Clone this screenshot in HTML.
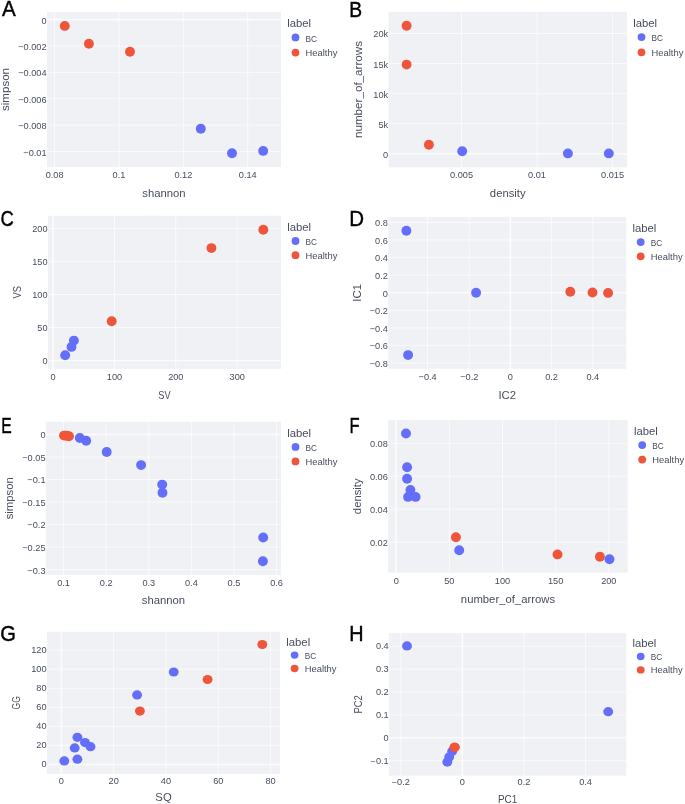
<!DOCTYPE html>
<html><head><meta charset="utf-8"><style>
html,body{margin:0;padding:0;background:#fff;}
body{width:685px;height:804px;overflow:hidden;}
svg{display:block;filter:blur(0.3px);}
text{font-family:"Liberation Sans", sans-serif;}
.gl{stroke:#fff;stroke-width:0.9;stroke-opacity:0.75;}
.zl{stroke:#fff;stroke-width:1.6;stroke-opacity:0.8;}
.tk{font-size:9.2px;fill:#474d5e;}
.tt{font-size:11.3px;fill:#474d5e;}
.lt{font-size:11.3px;fill:#474d5e;}
.lg{font-size:9.4px;fill:#474d5e;}
.let{font-size:21px;fill:#000;stroke:#000;stroke-width:0.4px;}
</style></head><body>
<svg width="685" height="804" viewBox="0 0 685 804">
<rect width="685" height="804" fill="#fff"/>
<rect x="47" y="12" width="234" height="155" fill="#F0F1F5"/>
<line x1="54.6" y1="12" x2="54.6" y2="167" class="gl"/>
<line x1="119" y1="12" x2="119" y2="167" class="gl"/>
<line x1="183.4" y1="12" x2="183.4" y2="167" class="gl"/>
<line x1="247.8" y1="12" x2="247.8" y2="167" class="gl"/>
<line x1="47" y1="46" x2="281" y2="46" class="gl"/>
<line x1="47" y1="72.4" x2="281" y2="72.4" class="gl"/>
<line x1="47" y1="98.8" x2="281" y2="98.8" class="gl"/>
<line x1="47" y1="125.2" x2="281" y2="125.2" class="gl"/>
<line x1="47" y1="151.6" x2="281" y2="151.6" class="gl"/>
<line x1="47" y1="19.6" x2="281" y2="19.6" class="zl"/>
<circle cx="200.8" cy="128.8" r="4.95" fill="#636EFA"/>
<circle cx="232" cy="153.3" r="4.95" fill="#636EFA"/>
<circle cx="263.2" cy="150.9" r="4.95" fill="#636EFA"/>
<circle cx="64.8" cy="25.9" r="4.95" fill="#EF553B"/>
<circle cx="88.9" cy="43.7" r="4.95" fill="#EF553B"/>
<circle cx="130" cy="51.8" r="4.95" fill="#EF553B"/>
<text x="54.6" y="178" class="tk" text-anchor="middle">0.08</text>
<text x="119" y="178" class="tk" text-anchor="middle">0.1</text>
<text x="183.4" y="178" class="tk" text-anchor="middle">0.12</text>
<text x="247.8" y="178" class="tk" text-anchor="middle">0.14</text>
<text x="46.6" y="23.5" class="tk" text-anchor="end">0</text>
<text x="46.6" y="49.9" class="tk" text-anchor="end">−0.002</text>
<text x="46.6" y="76.3" class="tk" text-anchor="end">−0.004</text>
<text x="46.6" y="102.7" class="tk" text-anchor="end">−0.006</text>
<text x="46.6" y="129.1" class="tk" text-anchor="end">−0.008</text>
<text x="46.6" y="155.5" class="tk" text-anchor="end">−0.01</text>
<text x="164" y="197.2" class="tt" text-anchor="middle">shannon</text>
<text transform="translate(9.3,89.5) scale(1,1.020) rotate(-90)" class="tt" text-anchor="middle">simpson</text>
<text x="287.2" y="27.4" class="lt">label</text>
<circle cx="295.5" cy="37.4" r="3.9" fill="#636EFA"/>
<text x="305.6" y="41.7" class="lg" textLength="11.5" lengthAdjust="spacingAndGlyphs">BC</text>
<circle cx="295.5" cy="52.6" r="3.9" fill="#EF553B"/>
<text x="305.6" y="55.8" class="lg">Healthy</text>
<text transform="translate(2.10,15.80) scale(0.981,1.036)" class="let">A</text>
<rect x="388.5" y="11.7" width="238.5" height="155.6" fill="#F0F1F5"/>
<line x1="461.5" y1="11.7" x2="461.5" y2="167.3" class="gl"/>
<line x1="537" y1="11.7" x2="537" y2="167.3" class="gl"/>
<line x1="612.6" y1="11.7" x2="612.6" y2="167.3" class="gl"/>
<line x1="388.5" y1="123.7" x2="627" y2="123.7" class="gl"/>
<line x1="388.5" y1="93.7" x2="627" y2="93.7" class="gl"/>
<line x1="388.5" y1="63.6" x2="627" y2="63.6" class="gl"/>
<line x1="388.5" y1="33.5" x2="627" y2="33.5" class="gl"/>
<line x1="388.5" y1="153.8" x2="627" y2="153.8" class="zl"/>
<circle cx="462.2" cy="151.3" r="4.95" fill="#636EFA"/>
<circle cx="567.9" cy="153.4" r="4.95" fill="#636EFA"/>
<circle cx="608.8" cy="153.4" r="4.95" fill="#636EFA"/>
<circle cx="406.6" cy="25.7" r="4.95" fill="#EF553B"/>
<circle cx="406.6" cy="64.6" r="4.95" fill="#EF553B"/>
<circle cx="428.9" cy="144.8" r="4.95" fill="#EF553B"/>
<text x="461.5" y="178.3" class="tk" text-anchor="middle">0.005</text>
<text x="537" y="178.3" class="tk" text-anchor="middle">0.01</text>
<text x="612.6" y="178.3" class="tk" text-anchor="middle">0.015</text>
<text x="388.1" y="157.7" class="tk" text-anchor="end">0</text>
<text x="388.1" y="127.6" class="tk" text-anchor="end">5k</text>
<text x="388.1" y="97.6" class="tk" text-anchor="end">10k</text>
<text x="388.1" y="67.5" class="tk" text-anchor="end">15k</text>
<text x="388.1" y="37.4" class="tk" text-anchor="end">20k</text>
<text x="507.75" y="197.3" class="tt" text-anchor="middle">density</text>
<text transform="translate(362.4,89.5) scale(1,1.030) rotate(-90)" class="tt" text-anchor="middle">number_of_arrows</text>
<text x="633.2" y="27.1" class="lt">label</text>
<circle cx="641.5" cy="37.1" r="3.9" fill="#636EFA"/>
<text x="651.6" y="41.4" class="lg" textLength="11.5" lengthAdjust="spacingAndGlyphs">BC</text>
<circle cx="641.5" cy="52.3" r="3.9" fill="#EF553B"/>
<text x="651.6" y="55.5" class="lg">Healthy</text>
<text transform="translate(349.36,17.30) scale(0.917,1.056)" class="let">B</text>
<rect x="47.9" y="215.8" width="233.1" height="153.1" fill="#F0F1F5"/>
<line x1="114.5" y1="215.8" x2="114.5" y2="368.9" class="gl"/>
<line x1="175.8" y1="215.8" x2="175.8" y2="368.9" class="gl"/>
<line x1="237.2" y1="215.8" x2="237.2" y2="368.9" class="gl"/>
<line x1="47.9" y1="327.5" x2="281" y2="327.5" class="gl"/>
<line x1="47.9" y1="294.5" x2="281" y2="294.5" class="gl"/>
<line x1="47.9" y1="261.4" x2="281" y2="261.4" class="gl"/>
<line x1="47.9" y1="228.4" x2="281" y2="228.4" class="gl"/>
<line x1="53.1" y1="215.8" x2="53.1" y2="368.9" class="zl"/>
<line x1="47.9" y1="360.5" x2="281" y2="360.5" class="zl"/>
<circle cx="73.9" cy="340.6" r="4.95" fill="#636EFA"/>
<circle cx="71.5" cy="346.9" r="4.95" fill="#636EFA"/>
<circle cx="65.2" cy="355.2" r="4.95" fill="#636EFA"/>
<circle cx="263.3" cy="229.7" r="4.95" fill="#EF553B"/>
<circle cx="211.4" cy="248.1" r="4.95" fill="#EF553B"/>
<circle cx="111.7" cy="321.3" r="4.95" fill="#EF553B"/>
<text x="53.1" y="379.9" class="tk" text-anchor="middle">0</text>
<text x="114.5" y="379.9" class="tk" text-anchor="middle">100</text>
<text x="175.8" y="379.9" class="tk" text-anchor="middle">200</text>
<text x="237.2" y="379.9" class="tk" text-anchor="middle">300</text>
<text x="47.5" y="364.4" class="tk" text-anchor="end">0</text>
<text x="47.5" y="331.4" class="tk" text-anchor="end">50</text>
<text x="47.5" y="298.4" class="tk" text-anchor="end">100</text>
<text x="47.5" y="265.3" class="tk" text-anchor="end">150</text>
<text x="47.5" y="232.3" class="tk" text-anchor="end">200</text>
<text transform="translate(164.45,398.9) scale(0.82,1.0)" class="tt" text-anchor="middle">SV</text>
<text transform="translate(21.1,292.35) scale(1,0.830) rotate(-90)" class="tt" text-anchor="middle">VS</text>
<text x="287.2" y="231.1" class="lt">label</text>
<circle cx="295.5" cy="241" r="3.9" fill="#636EFA"/>
<text x="305.6" y="244.9" class="lg" textLength="11.5" lengthAdjust="spacingAndGlyphs">BC</text>
<circle cx="295.5" cy="255.2" r="3.9" fill="#EF553B"/>
<text x="305.6" y="259" class="lg">Healthy</text>
<text transform="translate(0.58,225.57) scale(0.877,1.073)" class="let">C</text>
<rect x="388.3" y="216.9" width="237.9" height="151.9" fill="#F0F1F5"/>
<line x1="427.6" y1="216.9" x2="427.6" y2="368.8" class="gl"/>
<line x1="469.3" y1="216.9" x2="469.3" y2="368.8" class="gl"/>
<line x1="551.6" y1="216.9" x2="551.6" y2="368.8" class="gl"/>
<line x1="592.8" y1="216.9" x2="592.8" y2="368.8" class="gl"/>
<line x1="388.3" y1="222.4" x2="626.2" y2="222.4" class="gl"/>
<line x1="388.3" y1="239.99" x2="626.2" y2="239.99" class="gl"/>
<line x1="388.3" y1="257.58" x2="626.2" y2="257.58" class="gl"/>
<line x1="388.3" y1="275.17" x2="626.2" y2="275.17" class="gl"/>
<line x1="388.3" y1="310.35" x2="626.2" y2="310.35" class="gl"/>
<line x1="388.3" y1="327.94" x2="626.2" y2="327.94" class="gl"/>
<line x1="388.3" y1="345.53" x2="626.2" y2="345.53" class="gl"/>
<line x1="388.3" y1="363.12" x2="626.2" y2="363.12" class="gl"/>
<line x1="510.3" y1="216.9" x2="510.3" y2="368.8" class="zl"/>
<line x1="388.3" y1="292.75" x2="626.2" y2="292.75" class="zl"/>
<circle cx="406.4" cy="230.7" r="4.95" fill="#636EFA"/>
<circle cx="408.1" cy="355.1" r="4.95" fill="#636EFA"/>
<circle cx="476.1" cy="292.8" r="4.95" fill="#636EFA"/>
<circle cx="570.3" cy="291.8" r="4.95" fill="#EF553B"/>
<circle cx="592.5" cy="292.5" r="4.95" fill="#EF553B"/>
<circle cx="608.1" cy="292.9" r="4.95" fill="#EF553B"/>
<text x="427.6" y="379.8" class="tk" text-anchor="middle">−0.4</text>
<text x="469.3" y="379.8" class="tk" text-anchor="middle">−0.2</text>
<text x="510.3" y="379.8" class="tk" text-anchor="middle">0</text>
<text x="551.6" y="379.8" class="tk" text-anchor="middle">0.2</text>
<text x="592.8" y="379.8" class="tk" text-anchor="middle">0.4</text>
<text x="387.9" y="226.3" class="tk" text-anchor="end">0.8</text>
<text x="387.9" y="243.89" class="tk" text-anchor="end">0.6</text>
<text x="387.9" y="261.48" class="tk" text-anchor="end">0.4</text>
<text x="387.9" y="279.07" class="tk" text-anchor="end">0.2</text>
<text x="387.9" y="296.66" class="tk" text-anchor="end">0</text>
<text x="387.9" y="314.25" class="tk" text-anchor="end">−0.2</text>
<text x="387.9" y="331.84" class="tk" text-anchor="end">−0.4</text>
<text x="387.9" y="349.43" class="tk" text-anchor="end">−0.6</text>
<text x="387.9" y="367.02" class="tk" text-anchor="end">−0.8</text>
<text x="507.25" y="399" class="tt" text-anchor="middle">IC2</text>
<text transform="translate(361,292.85) scale(1,1.000) rotate(-90)" class="tt" text-anchor="middle">IC1</text>
<text x="632.4" y="232.2" class="lt">label</text>
<circle cx="640.7" cy="242.1" r="3.9" fill="#636EFA"/>
<text x="650.8" y="246" class="lg" textLength="11.5" lengthAdjust="spacingAndGlyphs">BC</text>
<circle cx="640.7" cy="256.3" r="3.9" fill="#EF553B"/>
<text x="650.8" y="260.1" class="lg">Healthy</text>
<text transform="translate(349.26,225.60) scale(0.976,1.077)" class="let">D</text>
<rect x="45.9" y="421.7" width="235.1" height="153.2" fill="#F0F1F5"/>
<line x1="63.6" y1="421.7" x2="63.6" y2="574.9" class="gl"/>
<line x1="106.2" y1="421.7" x2="106.2" y2="574.9" class="gl"/>
<line x1="148.8" y1="421.7" x2="148.8" y2="574.9" class="gl"/>
<line x1="191.4" y1="421.7" x2="191.4" y2="574.9" class="gl"/>
<line x1="234" y1="421.7" x2="234" y2="574.9" class="gl"/>
<line x1="276.6" y1="421.7" x2="276.6" y2="574.9" class="gl"/>
<line x1="45.9" y1="457.02" x2="281" y2="457.02" class="gl"/>
<line x1="45.9" y1="479.54" x2="281" y2="479.54" class="gl"/>
<line x1="45.9" y1="502.06" x2="281" y2="502.06" class="gl"/>
<line x1="45.9" y1="524.58" x2="281" y2="524.58" class="gl"/>
<line x1="45.9" y1="547.1" x2="281" y2="547.1" class="gl"/>
<line x1="45.9" y1="569.62" x2="281" y2="569.62" class="gl"/>
<line x1="45.9" y1="434.5" x2="281" y2="434.5" class="zl"/>
<circle cx="79.8" cy="438" r="4.95" fill="#636EFA"/>
<circle cx="86.2" cy="440.8" r="4.95" fill="#636EFA"/>
<circle cx="106.7" cy="452" r="4.95" fill="#636EFA"/>
<circle cx="141.1" cy="465.1" r="4.95" fill="#636EFA"/>
<circle cx="162.2" cy="484.6" r="4.95" fill="#636EFA"/>
<circle cx="162.5" cy="492.8" r="4.95" fill="#636EFA"/>
<circle cx="263.2" cy="537.5" r="4.95" fill="#636EFA"/>
<circle cx="262.9" cy="561.2" r="4.95" fill="#636EFA"/>
<circle cx="64" cy="435.6" r="4.95" fill="#EF553B"/>
<circle cx="66.5" cy="435.8" r="4.95" fill="#EF553B"/>
<circle cx="69" cy="436.2" r="4.95" fill="#EF553B"/>
<text x="63.6" y="585.9" class="tk" text-anchor="middle">0.1</text>
<text x="106.2" y="585.9" class="tk" text-anchor="middle">0.2</text>
<text x="148.8" y="585.9" class="tk" text-anchor="middle">0.3</text>
<text x="191.4" y="585.9" class="tk" text-anchor="middle">0.4</text>
<text x="234" y="585.9" class="tk" text-anchor="middle">0.5</text>
<text x="276.6" y="585.9" class="tk" text-anchor="middle">0.6</text>
<text x="45.5" y="438.4" class="tk" text-anchor="end">0</text>
<text x="45.5" y="460.92" class="tk" text-anchor="end">−0.05</text>
<text x="45.5" y="483.44" class="tk" text-anchor="end">−0.1</text>
<text x="45.5" y="505.96" class="tk" text-anchor="end">−0.15</text>
<text x="45.5" y="528.48" class="tk" text-anchor="end">−0.2</text>
<text x="45.5" y="551" class="tk" text-anchor="end">−0.25</text>
<text x="45.5" y="573.52" class="tk" text-anchor="end">−0.3</text>
<text x="163.45" y="604.2" class="tt" text-anchor="middle">shannon</text>
<text transform="translate(13.4,498.3) scale(1,1.000) rotate(-90)" class="tt" text-anchor="middle">simpson</text>
<text x="287.2" y="437" class="lt">label</text>
<circle cx="295.5" cy="446.9" r="3.9" fill="#636EFA"/>
<text x="305.6" y="450.8" class="lg" textLength="11.5" lengthAdjust="spacingAndGlyphs">BC</text>
<circle cx="295.5" cy="461.4" r="3.9" fill="#EF553B"/>
<text x="305.6" y="465.1" class="lg">Healthy</text>
<text transform="translate(1.14,433.00) scale(0.747,1.042)" class="let">E</text>
<rect x="388.2" y="419.9" width="239.5" height="152.7" fill="#F0F1F5"/>
<line x1="449.35" y1="419.9" x2="449.35" y2="572.6" class="gl"/>
<line x1="502.5" y1="419.9" x2="502.5" y2="572.6" class="gl"/>
<line x1="555.65" y1="419.9" x2="555.65" y2="572.6" class="gl"/>
<line x1="608.8" y1="419.9" x2="608.8" y2="572.6" class="gl"/>
<line x1="388.2" y1="443.3" x2="627.7" y2="443.3" class="gl"/>
<line x1="388.2" y1="476.25" x2="627.7" y2="476.25" class="gl"/>
<line x1="388.2" y1="509.2" x2="627.7" y2="509.2" class="gl"/>
<line x1="388.2" y1="542.15" x2="627.7" y2="542.15" class="gl"/>
<line x1="396.2" y1="419.9" x2="396.2" y2="572.6" class="zl"/>
<circle cx="406" cy="433.5" r="4.95" fill="#636EFA"/>
<circle cx="407.1" cy="467.3" r="4.95" fill="#636EFA"/>
<circle cx="407.1" cy="478.7" r="4.95" fill="#636EFA"/>
<circle cx="410.4" cy="490" r="4.95" fill="#636EFA"/>
<circle cx="408.1" cy="496.9" r="4.95" fill="#636EFA"/>
<circle cx="415.6" cy="496.9" r="4.95" fill="#636EFA"/>
<circle cx="459.2" cy="550.2" r="4.95" fill="#636EFA"/>
<circle cx="609.5" cy="559.2" r="4.95" fill="#636EFA"/>
<circle cx="455.9" cy="537.3" r="4.95" fill="#EF553B"/>
<circle cx="557.5" cy="554.4" r="4.95" fill="#EF553B"/>
<circle cx="599.9" cy="556.8" r="4.95" fill="#EF553B"/>
<text x="396.2" y="583.6" class="tk" text-anchor="middle">0</text>
<text x="449.35" y="583.6" class="tk" text-anchor="middle">50</text>
<text x="502.5" y="583.6" class="tk" text-anchor="middle">100</text>
<text x="555.65" y="583.6" class="tk" text-anchor="middle">150</text>
<text x="608.8" y="583.6" class="tk" text-anchor="middle">200</text>
<text x="387.8" y="447.2" class="tk" text-anchor="end">0.08</text>
<text x="387.8" y="480.15" class="tk" text-anchor="end">0.06</text>
<text x="387.8" y="513.1" class="tk" text-anchor="end">0.04</text>
<text x="387.8" y="546.05" class="tk" text-anchor="end">0.02</text>
<text x="507.95" y="602.7" class="tt" text-anchor="middle">number_of_arrows</text>
<text transform="translate(360.5,496.25) scale(1,1.000) rotate(-90)" class="tt" text-anchor="middle">density</text>
<text x="633.9" y="435.2" class="lt">label</text>
<circle cx="642.2" cy="445.1" r="3.9" fill="#636EFA"/>
<text x="652.3" y="449" class="lg" textLength="11.5" lengthAdjust="spacingAndGlyphs">BC</text>
<circle cx="642.2" cy="459.6" r="3.9" fill="#EF553B"/>
<text x="652.3" y="463.3" class="lg">Healthy</text>
<text transform="translate(349.58,433.00) scale(0.787,1.042)" class="let">F</text>
<rect x="46.9" y="631.7" width="233.2" height="142.3" fill="#F0F1F5"/>
<line x1="113.63" y1="631.7" x2="113.63" y2="774" class="gl"/>
<line x1="165.96" y1="631.7" x2="165.96" y2="774" class="gl"/>
<line x1="218.29" y1="631.7" x2="218.29" y2="774" class="gl"/>
<line x1="270.62" y1="631.7" x2="270.62" y2="774" class="gl"/>
<line x1="46.9" y1="745.44" x2="280.1" y2="745.44" class="gl"/>
<line x1="46.9" y1="726.38" x2="280.1" y2="726.38" class="gl"/>
<line x1="46.9" y1="707.32" x2="280.1" y2="707.32" class="gl"/>
<line x1="46.9" y1="688.26" x2="280.1" y2="688.26" class="gl"/>
<line x1="46.9" y1="669.2" x2="280.1" y2="669.2" class="gl"/>
<line x1="46.9" y1="650.14" x2="280.1" y2="650.14" class="gl"/>
<line x1="61.3" y1="631.7" x2="61.3" y2="774" class="zl"/>
<line x1="46.9" y1="764.5" x2="280.1" y2="764.5" class="zl"/>
<ellipse cx="77.4" cy="737.3" rx="4.95" ry="4.60" fill="#636EFA"/>
<ellipse cx="85" cy="742.6" rx="4.95" ry="4.60" fill="#636EFA"/>
<ellipse cx="90.5" cy="746.7" rx="4.95" ry="4.60" fill="#636EFA"/>
<ellipse cx="74.7" cy="747.9" rx="4.95" ry="4.60" fill="#636EFA"/>
<ellipse cx="77.4" cy="759.2" rx="4.95" ry="4.60" fill="#636EFA"/>
<ellipse cx="64.3" cy="760.9" rx="4.95" ry="4.60" fill="#636EFA"/>
<ellipse cx="137.1" cy="694.9" rx="4.95" ry="4.60" fill="#636EFA"/>
<ellipse cx="173.7" cy="672" rx="4.95" ry="4.60" fill="#636EFA"/>
<ellipse cx="262.3" cy="644.5" rx="4.95" ry="4.60" fill="#EF553B"/>
<ellipse cx="207.6" cy="679.5" rx="4.95" ry="4.60" fill="#EF553B"/>
<ellipse cx="139.9" cy="711.1" rx="4.95" ry="4.60" fill="#EF553B"/>
<text transform="translate(61.3,784) scale(1.0,0.93)" class="tk" text-anchor="middle">0</text>
<text transform="translate(113.63,784) scale(1.0,0.93)" class="tk" text-anchor="middle">20</text>
<text transform="translate(165.96,784) scale(1.0,0.93)" class="tk" text-anchor="middle">40</text>
<text transform="translate(218.29,784) scale(1.0,0.93)" class="tk" text-anchor="middle">60</text>
<text transform="translate(270.62,784) scale(1.0,0.93)" class="tk" text-anchor="middle">80</text>
<text transform="translate(46.5,767.3) scale(1.0,0.93)" class="tk" text-anchor="end">0</text>
<text transform="translate(46.5,748.24) scale(1.0,0.93)" class="tk" text-anchor="end">20</text>
<text transform="translate(46.5,729.18) scale(1.0,0.93)" class="tk" text-anchor="end">40</text>
<text transform="translate(46.5,710.12) scale(1.0,0.93)" class="tk" text-anchor="end">60</text>
<text transform="translate(46.5,691.06) scale(1.0,0.93)" class="tk" text-anchor="end">80</text>
<text transform="translate(46.5,672) scale(1.0,0.93)" class="tk" text-anchor="end">100</text>
<text transform="translate(46.5,652.94) scale(1.0,0.93)" class="tk" text-anchor="end">120</text>
<text transform="translate(163.5,801.2) scale(1.0,0.93)" class="tt" text-anchor="middle">SQ</text>
<text transform="translate(20.2,702.85) scale(1,0.744) rotate(-90)" class="tt" text-anchor="middle">GG</text>
<text transform="translate(286.3,645.7) scale(1.0,0.93)" class="lt">label</text>
<ellipse cx="294.6" cy="655.1" rx="3.9" ry="3.63" fill="#636EFA"/>
<text transform="translate(304.7,658.6) scale(1.0,0.93)" class="lg" textLength="11.5" lengthAdjust="spacingAndGlyphs">BC</text>
<ellipse cx="294.6" cy="668.5" rx="3.9" ry="3.63" fill="#EF553B"/>
<text transform="translate(304.7,672) scale(1.0,0.93)" class="lg">Healthy</text>
<text transform="translate(0.29,640.78) scale(0.960,1.053)" class="let">G</text>
<rect x="389.1" y="633.1" width="237.1" height="142.5" fill="#F0F1F5"/>
<line x1="400.8" y1="633.1" x2="400.8" y2="775.6" class="gl"/>
<line x1="524" y1="633.1" x2="524" y2="775.6" class="gl"/>
<line x1="585.6" y1="633.1" x2="585.6" y2="775.6" class="gl"/>
<line x1="389.1" y1="646.3" x2="626.2" y2="646.3" class="gl"/>
<line x1="389.1" y1="669.18" x2="626.2" y2="669.18" class="gl"/>
<line x1="389.1" y1="692.06" x2="626.2" y2="692.06" class="gl"/>
<line x1="389.1" y1="714.94" x2="626.2" y2="714.94" class="gl"/>
<line x1="389.1" y1="760.7" x2="626.2" y2="760.7" class="gl"/>
<line x1="462.4" y1="633.1" x2="462.4" y2="775.6" class="zl"/>
<line x1="389.1" y1="737.8" x2="626.2" y2="737.8" class="zl"/>
<ellipse cx="407" cy="645.9" rx="4.95" ry="4.60" fill="#636EFA"/>
<ellipse cx="608.2" cy="711.7" rx="4.95" ry="4.60" fill="#636EFA"/>
<ellipse cx="452.2" cy="751.3" rx="4.95" ry="4.60" fill="#636EFA"/>
<ellipse cx="449.2" cy="756.9" rx="4.95" ry="4.60" fill="#636EFA"/>
<ellipse cx="447.3" cy="762.1" rx="4.95" ry="4.60" fill="#636EFA"/>
<ellipse cx="454.6" cy="747.3" rx="4.95" ry="4.60" fill="#EF553B"/>
<ellipse cx="454.6" cy="747.3" rx="4.95" ry="4.60" fill="#EF553B"/>
<ellipse cx="454.6" cy="747.3" rx="4.95" ry="4.60" fill="#EF553B"/>
<text transform="translate(400.8,785.1) scale(1.0,0.93)" class="tk" text-anchor="middle">−0.2</text>
<text transform="translate(462.4,785.1) scale(1.0,0.93)" class="tk" text-anchor="middle">0</text>
<text transform="translate(524,785.1) scale(1.0,0.93)" class="tk" text-anchor="middle">0.2</text>
<text transform="translate(585.6,785.1) scale(1.0,0.93)" class="tk" text-anchor="middle">0.4</text>
<text transform="translate(388.7,649.1) scale(1.0,0.93)" class="tk" text-anchor="end">0.4</text>
<text transform="translate(388.7,671.98) scale(1.0,0.93)" class="tk" text-anchor="end">0.3</text>
<text transform="translate(388.7,694.86) scale(1.0,0.93)" class="tk" text-anchor="end">0.2</text>
<text transform="translate(388.7,717.74) scale(1.0,0.93)" class="tk" text-anchor="end">0.1</text>
<text transform="translate(388.7,740.62) scale(1.0,0.93)" class="tk" text-anchor="end">0</text>
<text transform="translate(388.7,763.5) scale(1.0,0.93)" class="tk" text-anchor="end">−0.1</text>
<text transform="translate(507.65,802.9) scale(0.88,0.93)" class="tt" text-anchor="middle">PC1</text>
<text transform="translate(361.7,704.35) scale(1,0.837) rotate(-90)" class="tt" text-anchor="middle">PC2</text>
<text transform="translate(632.4,647.1) scale(1.0,0.93)" class="lt">label</text>
<ellipse cx="640.7" cy="656.5" rx="3.9" ry="3.63" fill="#636EFA"/>
<text transform="translate(650.8,660) scale(1.0,0.93)" class="lg" textLength="11.5" lengthAdjust="spacingAndGlyphs">BC</text>
<ellipse cx="640.7" cy="669.9" rx="3.9" ry="3.63" fill="#EF553B"/>
<text transform="translate(650.8,673.4) scale(1.0,0.93)" class="lg">Healthy</text>
<text transform="translate(349.31,640.80) scale(0.944,1.056)" class="let">H</text>
</svg>
</body></html>
